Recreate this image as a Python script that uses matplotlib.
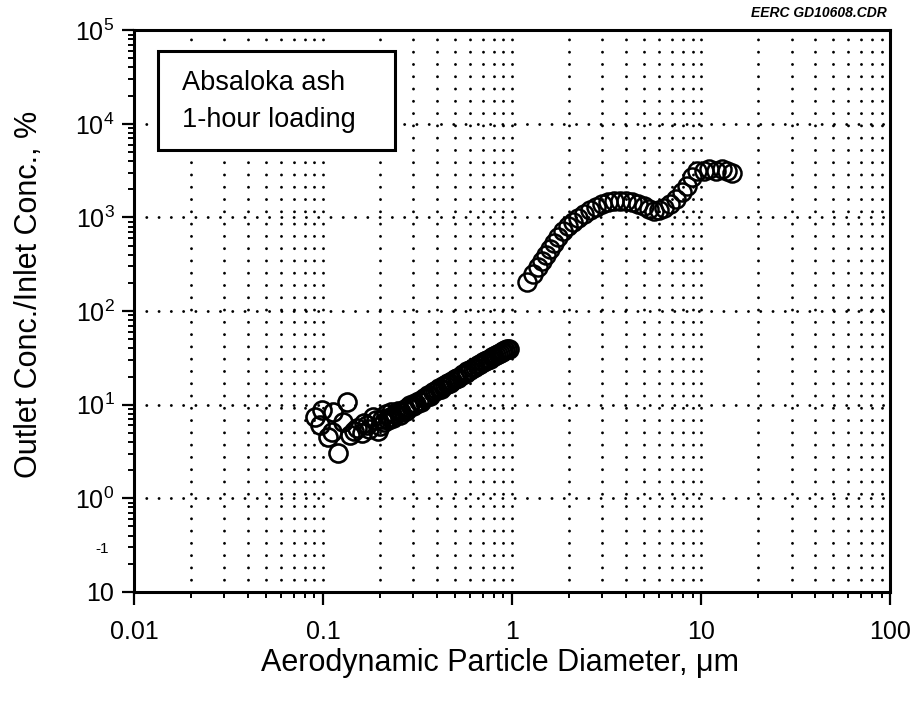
import matplotlib
matplotlib.use("Agg")
import matplotlib.pyplot as plt
import matplotlib.ticker as mticker
from matplotlib.patches import Rectangle
import numpy as np

plt.rcParams["font.family"] = ["Liberation Sans", "DejaVu Sans"]
plt.rcParams["mathtext.fontset"] = "custom"
plt.rcParams["mathtext.rm"] = "Liberation Sans"
plt.rcParams["mathtext.it"] = "Liberation Sans:italic"

# submicron branch (diameter in um, outlet/inlet in %)
fine_d = [0.0907, 0.0964, 0.099, 0.106, 0.1116, 0.113, 0.12, 0.1276, 0.134,
          0.139, 0.145, 0.151, 0.16, 0.165, 0.171, 0.175, 0.184, 0.19, 0.195,
          0.20, 0.205, 0.21, 0.215, 0.22, 0.225, 0.23, 0.235, 0.24, 0.25,
          0.255, 0.26, 0.27, 0.275, 0.28, 0.29, 0.30, 0.305, 0.31, 0.32,
          0.33, 0.34, 0.35, 0.36, 0.37, 0.38, 0.39, 0.40, 0.41, 0.42, 0.43,
          0.44, 0.45, 0.46, 0.47, 0.48, 0.50, 0.51, 0.52, 0.54, 0.55, 0.57,
          0.58, 0.60, 0.62, 0.64, 0.66, 0.68, 0.70, 0.72, 0.74, 0.76, 0.78,
          0.80, 0.82, 0.84, 0.86, 0.88, 0.90, 0.92, 0.94, 0.96]
fine_pct = [7.45, 6.1, 8.8, 4.55, 5.15, 8.4, 3.07, 6.6, 10.8,
            4.8, 5.3, 5.7, 5.0, 6.4, 6.1, 5.5, 7.3, 6.8, 5.2,
            5.9, 7.1, 6.6, 7.9, 6.9, 7.4, 8.3, 7.2, 8.0, 8.6,
            7.7, 8.4, 9.0, 8.5, 9.4, 9.9, 9.6, 10.5, 10.2, 11.0,
            10.8, 11.8, 12.1, 12.7, 12.4, 13.5, 13.9, 14.2, 14.9, 14.6, 15.8,
            16.1, 16.5, 17.2, 17.0, 18.0, 18.6, 19.5, 19.2, 20.6, 21.3, 22.0,
            23.0, 23.5, 24.8, 25.5, 26.6, 27.3, 28.4, 29.2, 30.1, 31.0, 32.2,
            32.8, 33.9, 34.6, 35.4, 36.5, 37.3, 38.2, 39.0, 39.8]

# supermicron branch
coarse_d = [1.20, 1.29, 1.37, 1.44, 1.51, 1.59, 1.67, 1.75, 1.86, 1.98,
            2.10, 2.23, 2.40, 2.59, 2.78, 2.99, 3.22, 3.47, 3.73, 4.01,
            4.31, 4.64, 4.99, 5.31, 5.64, 6.00, 6.37, 6.86, 7.38, 7.93,
            8.43, 8.96, 9.52, 10.3, 11.0, 11.9, 12.8, 13.7, 14.6]
coarse_pct = [206, 250, 297, 344, 400, 462, 536, 621, 719, 813,
              897, 991, 1092, 1205, 1297, 1397, 1466, 1502, 1502, 1502,
              1466, 1397, 1333, 1240, 1180, 1205, 1265, 1397, 1570, 1850,
              2190, 2700, 3100, 3170, 3330, 3170, 3330, 3100, 3000]

x_ticks = [0.01, 0.1, 1, 10, 100]
x_tick_labels = ["0.01", "0.1", "1", "10", "100"]
y_ticks = [1e-1, 1e0, 1e1, 1e2, 1e3, 1e4, 1e5]
y_tick_labels = ["10", "$10^{0}$", "$10^{1}$", "$10^{2}$", "$10^{3}$",
                 "$10^{4}$", "$10^{5}$"]

fig = plt.figure(figsize=(9.17, 7.03), dpi=100)
ax = fig.add_axes([0.146, 0.158, 0.825, 0.799])

ax.set_xscale("log")
ax.set_yscale("log")
ax.set_xlim(0.01, 100)
ax.set_ylim(0.1, 1e5)

dot = (0, (0.01, 4.2))
ax.xaxis.grid(True, which="both", color="black", linestyle=dot,
              linewidth=2.1, dash_capstyle="round")
ax.yaxis.grid(True, which="major", color="black", linestyle=dot,
              linewidth=2.1, dash_capstyle="round")
ax.set_axisbelow(True)

ax.plot(fine_d, fine_pct, linestyle="none", marker="o", markersize=13,
        markerfacecolor="none", markeredgecolor="black", markeredgewidth=1.9)
ax.plot(coarse_d, coarse_pct, linestyle="none", marker="o", markersize=13,
        markerfacecolor="none", markeredgecolor="black", markeredgewidth=1.8)

ax.xaxis.set_major_locator(mticker.FixedLocator(x_ticks))
ax.xaxis.set_major_formatter(mticker.FixedFormatter(x_tick_labels))
ax.xaxis.set_minor_locator(mticker.LogLocator(base=10, subs=np.arange(2, 10)))
ax.xaxis.set_minor_formatter(mticker.NullFormatter())
ax.yaxis.set_major_locator(mticker.FixedLocator(y_ticks))
ax.yaxis.set_major_formatter(mticker.FixedFormatter(y_tick_labels))
ax.yaxis.set_minor_locator(mticker.LogLocator(base=10, subs=np.arange(2, 10)))
ax.yaxis.set_minor_formatter(mticker.NullFormatter())

ax.tick_params(which="major", direction="out", length=9, width=1.6,
               labelsize=18)
ax.tick_params(axis="x", which="major", pad=11)
ax.tick_params(axis="y", which="major", pad=5)
ax.tick_params(which="minor", direction="out", length=4, width=1.4)
ax.tick_params(top=False, right=False)
for side in ax.spines.values():
    side.set_linewidth(2.2)

# small exponent sitting above the bottom "10"
ax.text(-0.042, 0.077, "-1", transform=ax.transAxes, fontsize=11,
        ha="center", va="center")

ax.set_xlabel("Aerodynamic Particle Diameter, \u03bcm", fontsize=22)
ax.xaxis.label.set_va("center")
ax.xaxis.set_label_coords(0.484, -0.127)
ax.set_ylabel("Outlet Conc./Inlet Conc., %", fontsize=22)
ax.yaxis.label.set_va("center")
ax.yaxis.set_label_coords(-0.138, 0.53)

# annotation box in the upper left
ax.add_patch(Rectangle((0.032, 0.786), 0.313, 0.177, transform=ax.transAxes,
                       facecolor="white", edgecolor="black", linewidth=2.2,
                       zorder=3))
ax.text(0.0635, 0.893, "Absaloka ash", transform=ax.transAxes, fontsize=19.5,
        ha="left", va="baseline", zorder=4)
ax.text(0.0635, 0.827, "1-hour loading", transform=ax.transAxes,
        fontsize=19.5, ha="left", va="baseline", zorder=4)

fig.text(0.967, 0.976, "EERC GD10608.CDR", fontsize=10, fontweight="bold",
         fontstyle="italic", ha="right", va="baseline")

fig.savefig("out.png", dpi=100)
